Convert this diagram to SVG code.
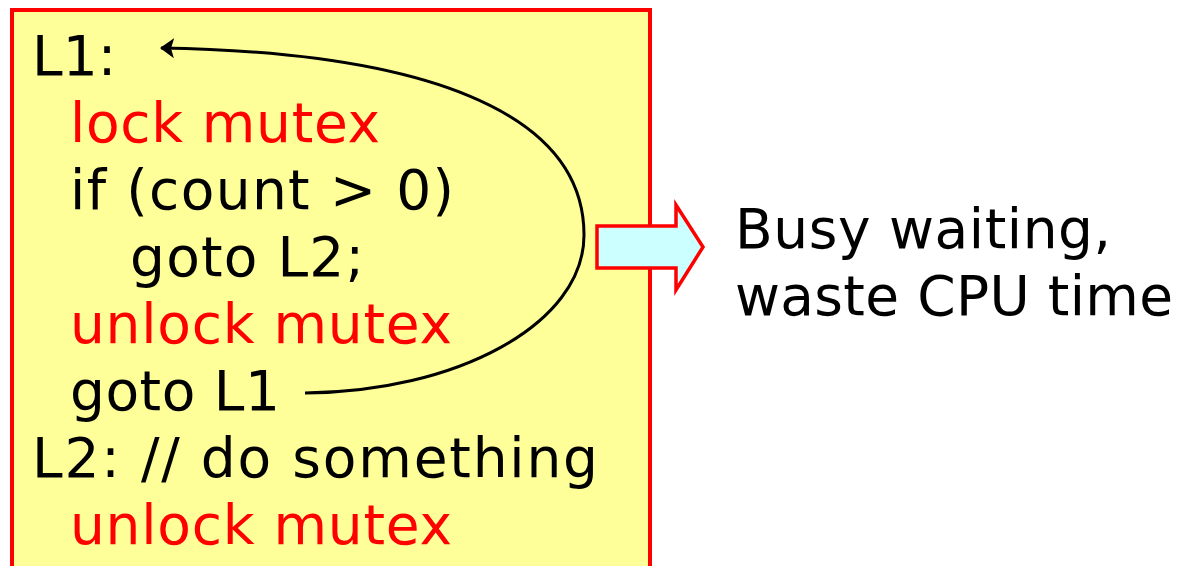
<svg xmlns="http://www.w3.org/2000/svg" width="1180" height="566" viewBox="0 0 1180 566">
  <style>
    .code { font-family: "DejaVu Sans", Verdana, sans-serif; font-size: 55px; fill: #000000; }
    .lock { fill: #ff0000; }
    .note { font-family: "DejaVu Sans", Verdana, sans-serif; font-size: 55px; fill: #000000; }
  </style>
  <defs>
    <marker id="head" viewBox="0 0 14 20" refX="13" refY="10" markerWidth="14" markerHeight="20" orient="auto" markerUnits="userSpaceOnUse">
      <path d="M0,0 L14,10 L0,20 L3,10 Z" fill="#000000"/>
    </marker>
  </defs>
  <rect width="1180" height="566" fill="#ffffff"/>

  <!-- code listing box -->
  <g id="code-box">
    <rect x="12" y="10" width="638" height="580" fill="#ffff99" stroke="#ff0000" stroke-width="4"/>
    <text class="code" x="32" y="75">L1:</text>
    <text class="code lock" x="70" y="142" textLength="310" lengthAdjust="spacing">lock mutex</text>
    <text class="code" x="70" y="209" textLength="384" lengthAdjust="spacing">if (count &gt; 0)</text>
    <text class="code" x="130" y="276" textLength="234" lengthAdjust="spacing">goto L2;</text>
    <text class="code lock" x="70" y="343" textLength="382" lengthAdjust="spacing">unlock mutex</text>
    <text class="code" x="70" y="410" textLength="210" lengthAdjust="spacing">goto L1</text>
    <text class="code" x="32" y="477" textLength="566" lengthAdjust="spacing">L2: // do something</text>
    <text class="code lock" x="70" y="544" textLength="382" lengthAdjust="spacing">unlock mutex</text>
  </g>

  <!-- block arrow pointing to the note -->
  <g id="block-arrow">
    <path d="M597,226 L676,226 L676,205 L703,247 L676,290 L676,268 L597,268 Z" fill="#ccffff" stroke="#ff0000" stroke-width="3.5" stroke-linejoin="miter"/>
  </g>

  <!-- note -->
  <g id="note">
    <text class="note" x="735" y="248" textLength="376" lengthAdjust="spacing">Busy waiting,</text>
    <text class="note" x="735" y="315" textLength="438" lengthAdjust="spacing">waste CPU time</text>
  </g>

  <!-- loop connector from "goto L1" back to "L1:" -->
  <g id="connectors">
    <path d="M305,393 C455,392 584,325 584,235 C584,110 420,52 161,48" fill="none" stroke="#000000" stroke-width="3" marker-end="url(#head)"/>
  </g>
</svg>
